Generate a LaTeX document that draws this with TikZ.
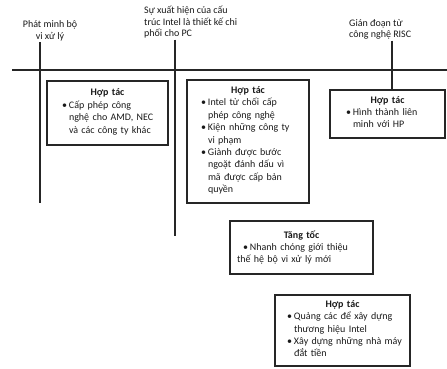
\documentclass[tikz,border=0pt]{standalone}
\usepackage{fontspec}
\setmainfont{Carlito}
\usetikzlibrary{positioning}

\newcommand{\diem}[2][11pt]{\par\noindent\hspace*{#1}\begin{tabular}[t]{@{}p{7pt}@{}l@{}}\textbullet&#2\end{tabular}\par\prevdepth=.3\baselineskip}
\newcommand{\tieude}[1]{{\centering\textbf{#1}\par}}

\tikzset{
  khung/.style={draw=black!85, line width=1.1pt, inner xsep=4pt, inner ysep=2pt, align=left, font=\fontsize{10}{12.4}\selectfont, text=black!90},
  nhan/.style={font=\fontsize{10}{11.5}\selectfont, text=black!90, inner sep=1pt},
  truc/.style={draw=black!85, line width=1.1pt},
}

\begin{document}
\begin{tikzpicture}[x=1pt, y=-1pt]
\useasboundingbox (0,0) rectangle (447,369);
\node[nhan, align=center] (phatminh) at (50,31) {Phát minh bộ\\vi xử lý};
\node[nhan, align=left, anchor=north west] (xuathien) at (143,5) {Sự xuất hiện của cấu\\trúc Intel là thiết kế chi\\phối cho PC};
\node[nhan, align=left, anchor=north west] (giandoan) at (348,18) {Gián đoạn từ\\công nghệ RISC};
\node[khung, text width=113pt, minimum height=64pt] (hoptacA) at (107.5,113) {\tieude{Hợp tác}\diem{Cấp phép công\\&nghệ cho AMD, NEC\\&và các công ty khác}};
\node[khung, text width=114pt, minimum height=123pt] (hoptacB) at (248,141.5) {\tieude{Hợp tác}\diem[10pt]{Intel từ chối cấp\\&phép công nghệ}\diem[10pt]{Kiện những công ty\\&vi phạm}\diem[10pt]{Giành được bước\\&ngoặt đánh dấu vì\\&mã được cấp bản\\&quyền}};
\node[khung, text width=107pt, minimum height=48pt] (hoptacC) at (387.5,114) {\tieude{Hợp tác}\diem[12pt]{Hình thành liên\\&minh với HP}};
\node[khung, text width=135pt, minimum height=53pt] (tangtoc) at (301.5,247.5) {\tieude{Tăng tốc}\diem[9pt]{Nhanh chóng giới thiệu}\noindent\hspace*{3pt}thế hệ bộ vi xử lý mới};
\node[khung, text width=127pt, minimum height=71pt] (hoptacD) at (342.5,330.5) {\tieude{Hợp tác}\diem[8pt]{Quảng các để xây dựng\\&thương hiệu Intel}\diem[8pt]{Xây dựng những nhà máy\\&đắt tiền}};
\coordinate (dauTruc) at (12,70);
\coordinate (cuoiTruc) at (447,70);
\coordinate (chan1) at (40,203);
\coordinate (chan2) at (175,236);
\coordinate (moc3) at (392,90);
\draw[truc] (dauTruc) -- (cuoiTruc);
\draw[truc] (phatminh.south -| chan1) -- (chan1);
\draw[truc] (xuathien.south -| chan2) -- (chan2);
\draw[truc] (giandoan.south -| moc3) -- (moc3 |- hoptacC.north);
\end{tikzpicture}
\end{document}
